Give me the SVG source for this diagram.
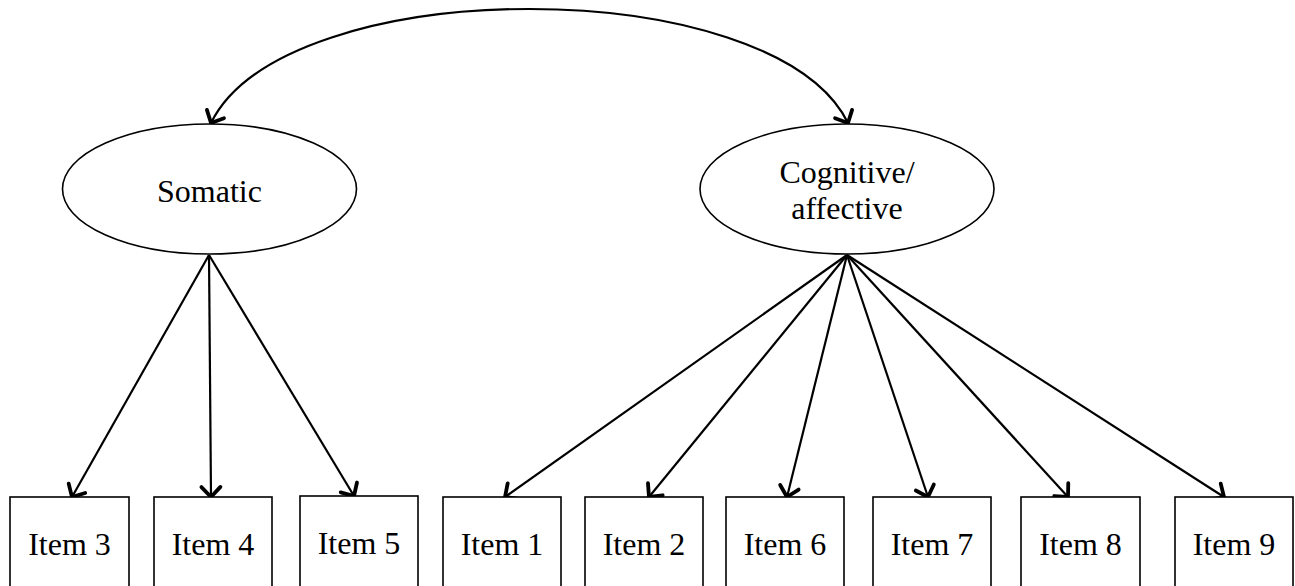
<svg xmlns="http://www.w3.org/2000/svg" width="1295" height="586" viewBox="0 0 1295 586">
<style>
text{font-family:"Liberation Serif","Times New Roman",serif;font-size:32px;fill:#000;text-anchor:middle}
.box{fill:#fff;stroke:#000;stroke-width:1.6}
.lat{fill:#fff;stroke:#000;stroke-width:1.6}
.con{fill:none;stroke:#000;stroke-width:2.2}
</style>
<defs>
<marker id="arr" markerUnits="userSpaceOnUse" markerWidth="30" markerHeight="30" viewBox="-15 -15 30 30" refX="0" refY="0" orient="auto-start-reverse" overflow="visible">
<path d="M-10,-9.5 L0,0 L-10,9.5" fill="none" stroke="#000" stroke-width="3.8" stroke-linecap="round" stroke-linejoin="round"/>
</marker>
</defs>
<g id="connectors">
<path class="con" d="M211,123 C286,-29 773,-29 848,123" marker-start="url(#arr)" marker-end="url(#arr)"/>
<line class="con" x1="209" y1="255" x2="72" y2="497" marker-end="url(#arr)"/>
<line class="con" x1="209" y1="255" x2="211" y2="497" marker-end="url(#arr)"/>
<line class="con" x1="209" y1="255" x2="354" y2="496" marker-end="url(#arr)"/>
<line class="con" x1="847" y1="255" x2="505" y2="497" marker-end="url(#arr)"/>
<line class="con" x1="847" y1="255" x2="649" y2="497" marker-end="url(#arr)"/>
<line class="con" x1="847" y1="255" x2="787" y2="497" marker-end="url(#arr)"/>
<line class="con" x1="847" y1="255" x2="928" y2="497" marker-end="url(#arr)"/>
<line class="con" x1="847" y1="255" x2="1068" y2="497" marker-end="url(#arr)"/>
<line class="con" x1="847" y1="255" x2="1224" y2="497" marker-end="url(#arr)"/>
</g>
<g id="somatic">
<ellipse class="lat" cx="209.5" cy="189" rx="147" ry="65"/>
<text x="209.5" y="202">Somatic</text>
</g>
<g id="cognitive">
<ellipse class="lat" cx="847" cy="189" rx="147" ry="65"/>
<text x="847" y="183">Cognitive/</text>
<text x="847" y="219">affective</text>
</g>
<g id="item3"><rect class="box" x="10" y="497" width="119" height="100"/><text x="69.5" y="555">Item 3</text></g>
<g id="item4"><rect class="box" x="154" y="497" width="118" height="100"/><text x="213" y="555">Item 4</text></g>
<g id="item5"><rect class="box" x="300" y="496" width="118" height="100"/><text x="359" y="554">Item 5</text></g>
<g id="item1"><rect class="box" x="443" y="497" width="118" height="100"/><text x="502" y="555">Item 1</text></g>
<g id="item2"><rect class="box" x="585" y="497" width="118" height="100"/><text x="644" y="555">Item 2</text></g>
<g id="item6"><rect class="box" x="726" y="497" width="118" height="100"/><text x="785" y="555">Item 6</text></g>
<g id="item7"><rect class="box" x="873" y="497" width="118" height="100"/><text x="932" y="555">Item 7</text></g>
<g id="item8"><rect class="box" x="1021" y="497" width="119" height="100"/><text x="1080.5" y="555">Item 8</text></g>
<g id="item9"><rect class="box" x="1175" y="497" width="118" height="100"/><text x="1234" y="555">Item 9</text></g>
</svg>
